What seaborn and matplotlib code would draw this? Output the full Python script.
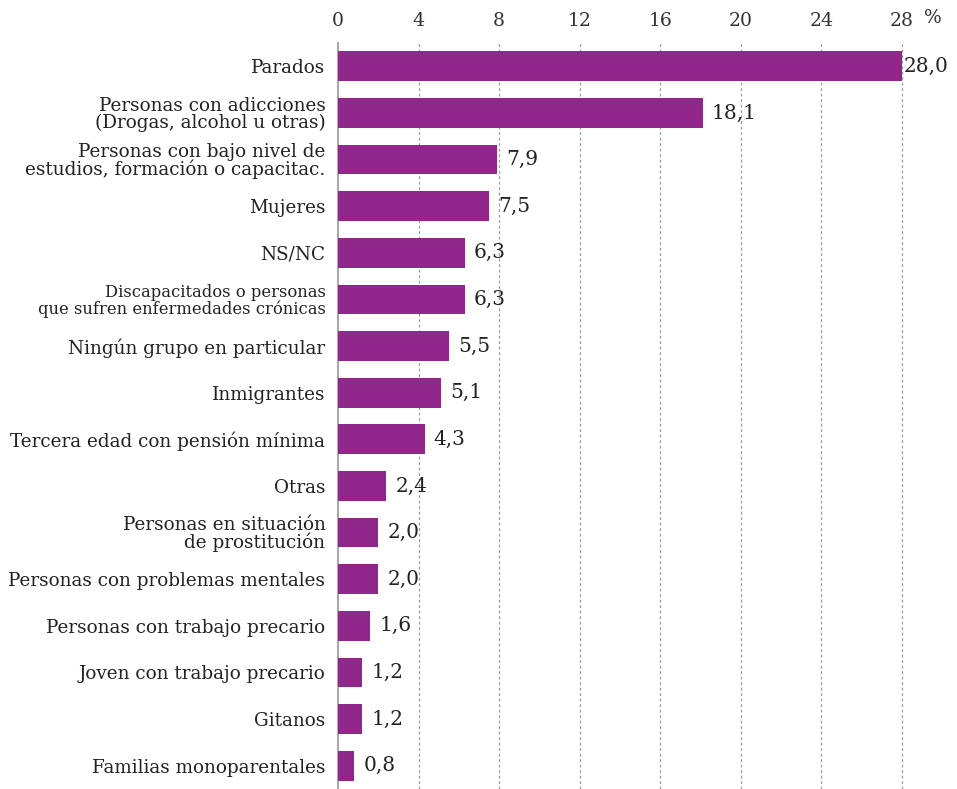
import matplotlib
matplotlib.use("Agg")
import matplotlib.pyplot as plt
import seaborn as sns
import pandas as pd

# Data
categories = [
    "Parados",
    "Personas con adicciones\n(Drogas, alcohol u otras)",
    "Personas con bajo nivel de\nestudios, formación o capacitac.",
    "Mujeres",
    "NS/NC",
    "Discapacitados o personas\nque sufren enfermedades crónicas",
    "Ningún grupo en particular",
    "Inmigrantes",
    "Tercera edad con pensión mínima",
    "Otras",
    "Personas en situación\nde prostitución",
    "Personas con problemas mentales",
    "Personas con trabajo precario",
    "Joven con trabajo precario",
    "Gitanos",
    "Familias monoparentales",
]
values = [28.0, 18.1, 7.9, 7.5, 6.3, 6.3, 5.5, 5.1, 4.3, 2.4, 2.0, 2.0, 1.6, 1.2, 1.2, 0.8]
x_ticks = [0, 4, 8, 12, 16, 20, 24, 28]

df = pd.DataFrame({"grupo": categories, "pct": values})

sns.set_style("white")
plt.rcParams['font.family'] = ['DejaVu Serif', 'DejaVu Sans']

fig = plt.figure(figsize=(9.57, 7.89), dpi=100)
ax = fig.add_axes([338 / 957, 0, 564 / 957, 746 / 789])

sns.barplot(data=df, x="pct", y="grupo", color="#91278b", width=0.64,
            saturation=1, linewidth=0, ax=ax, zorder=3)

ax.set_xlim(0, 28)
ax.set_ylim(15.5, -0.5)
ax.set_xlabel("")
ax.set_ylabel("")

# axis on top
ax.xaxis.tick_top()
ax.set_xticks(x_ticks)
ax.set_xticklabels([str(t) for t in x_ticks], fontsize=13.5, color="#333333")
ax.tick_params(axis="x", length=0, pad=9)
ax.tick_params(axis="y", length=0, pad=9)
for lab in ax.get_yticklabels():
    lab.set_fontsize(13.2)
    lab.set_color("#222222")
    lab.set_linespacing(0.92)
    if lab.get_text().startswith("Discapacitados"):
        lab.set_fontsize(11.8)
fig.text(924 / 957, 1 - 18 / 789, "%", fontsize=13.5, color="#333333", va="center", ha="left")

for t in x_ticks[1:]:
    ax.axvline(t, color="#9a9a9a", linestyle=(0, (2.2, 2.2)), linewidth=0.9,
               zorder=1, clip_on=False)

for s in ["top", "right", "bottom"]:
    ax.spines[s].set_visible(False)
ax.spines["left"].set_color("#aaaaaa")
ax.spines["left"].set_linewidth(1.5)

# value labels with comma decimal
for i, v in enumerate(values):
    off = 0.1 if v >= 28 else 0.45
    ax.text(v + off, i, f"{v:.1f}".replace(".", ","), va="center", ha="left",
            fontsize=14.5, color="#222222", clip_on=False)

plt.savefig("out.png", dpi=100)
